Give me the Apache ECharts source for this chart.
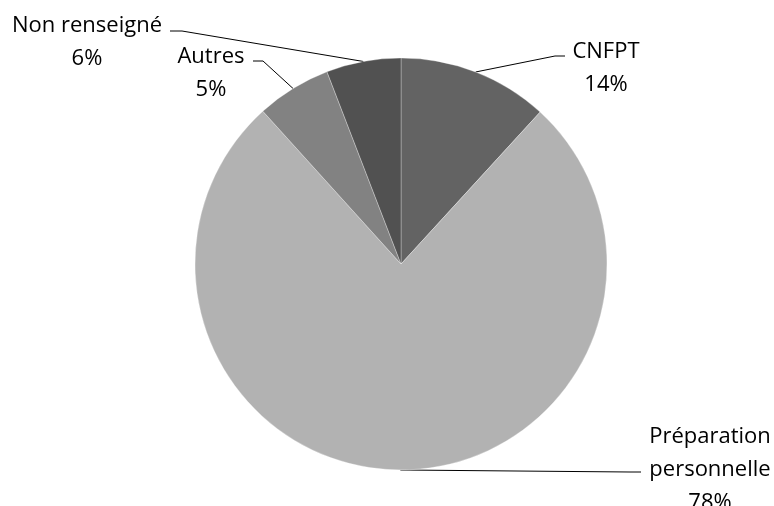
<!DOCTYPE html>
<html>
<head>
<meta charset="utf-8">
<script src="https://cdn.jsdelivr.net/npm/echarts@6/dist/echarts.min.js"></script>
<style>
  html, body { margin: 0; padding: 0; background: #fff; }
  #chart { width: 774px; height: 506px; }
</style>
</head>
<body>
<div id="chart"></div>
<script>
// categories, clockwise from 12 o'clock
const categories = ['CNFPT', 'Préparation personnelle', 'Autres', 'Non renseigné']
// slice sizes
const values = [11.8, 76.5, 5.85, 5.85]
// percentages as printed on the labels
const pctLabels = ['14%', '78%', '5%', '6%']

const COLORS = ['#636363', '#b2b2b2', '#828282', '#515151']

// label block centres + leader elbow/end (layout only)
const LABEL_POS = [
  { x: 606, y: 68, elbow: [555, 56], end: [565, 56] },
  { x: 710, y: 470, elbow: [630, 472], end: [641, 472] },
  { x: 211, y: 73, elbow: [263, 61], end: [253, 61] },
  { x: 87, y: 42, elbow: [182, 31], end: [170, 31] }
]

const chart = echarts.init(document.getElementById('chart'), null, { renderer: 'canvas' })

chart.setOption({
  animation: false,
  series: [{
    type: 'pie',
    center: [401, 264],
    radius: 206,
    startAngle: 90,
    clockwise: true,
    avoidLabelOverlap: false,
    data: categories.map((name, i) => ({
      name,
      value: values[i],
      itemStyle: { color: COLORS[i] }
    })),
    itemStyle: { borderColor: 'rgba(255,255,255,0.5)', borderWidth: 0.6 },
    emphasis: { disabled: true },
    label: {
      show: true,
      position: 'outside',
      color: '#000',
      fontFamily: 'Open Sans',
      fontSize: 22,
      lineHeight: 33,
      align: 'center',
      formatter: p => {
        const name = p.name.length > 15 ? p.name.replace(' ', '\n') : p.name
        return name + '\n' + pctLabels[p.dataIndex]
      }
    },
    labelLine: {
      show: true,
      length: 10,
      length2: 10,
      lineStyle: { color: '#000', width: 1 }
    },
    labelLayout: params => {
      const pos = LABEL_POS[params.dataIndex]
      const start = params.labelLinePoints ? params.labelLinePoints[0] : pos.elbow
      return {
        x: pos.x,
        y: pos.y,
        align: 'center',
        verticalAlign: 'middle',
        labelLinePoints: [start, pos.elbow, pos.end]
      }
    }
  }]
})
</script>
</body>
</html>
